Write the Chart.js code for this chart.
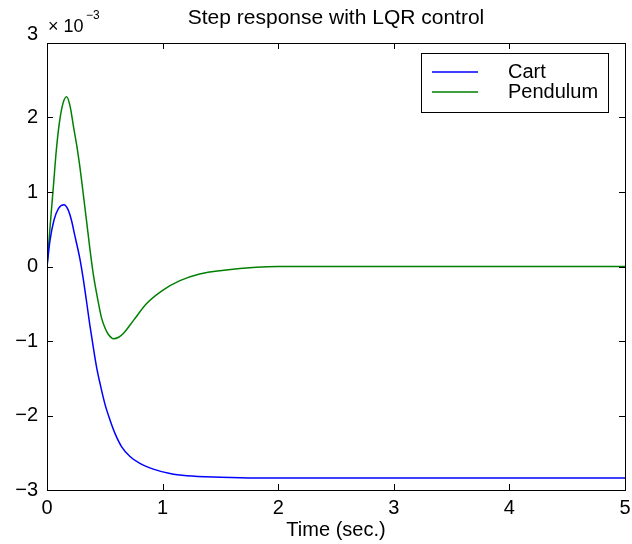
<!DOCTYPE html>
<html>
<head>
<meta charset="utf-8">
<script src="https://cdn.jsdelivr.net/npm/chart.js@4.4.1/dist/chart.umd.min.js"></script>
<style>
  html, body { margin: 0; padding: 0; background: #fff; }
  #wrap { width: 632px; height: 544px; }
</style>
</head>
<body>
<div id="wrap"><canvas id="chart" width="632" height="544"></canvas></div>
<script>
// values in units of 1e-3
const cartT = [0, 0.026, 0.06, 0.1, 0.147, 0.18, 0.21, 0.24, 0.285, 0.315, 0.343, 0.37, 0.40, 0.43, 0.46, 0.50, 0.545, 0.588, 0.646, 0.718, 0.80, 0.92, 1.064, 1.21, 1.5, 1.8, 5];
const cartY = [0, 0.35, 0.62, 0.78, 0.83, 0.77, 0.63, 0.42, 0.1, -0.18, -0.48, -0.78, -1.08, -1.36, -1.58, -1.84, -2.06, -2.24, -2.42, -2.55, -2.64, -2.72, -2.78, -2.81, -2.83, -2.84, -2.84];

const pendT = [0, 0.03, 0.055, 0.08, 0.11, 0.14, 0.17, 0.2, 0.23, 0.26, 0.285, 0.31, 0.343, 0.37, 0.40, 0.44, 0.47, 0.50, 0.53, 0.575, 0.62, 0.66, 0.75, 0.86, 1.0, 1.15, 1.32, 1.53, 1.81, 2.0, 5];
const pendY = [0, 0.6, 1.07, 1.55, 1.96, 2.2, 2.28, 2.15, 1.87, 1.6, 1.33, 1.02, 0.6, 0.25, -0.1, -0.45, -0.68, -0.82, -0.91, -0.97, -0.95, -0.9, -0.72, -0.5, -0.32, -0.19, -0.1, -0.05, -0.01, 0, 0];

const xTicks = [0, 1, 2, 3, 4, 5];
const yTicks = [-3, -2, -1, 0, 1, 2, 3];

const FONT = '"Liberation Sans", Arial, sans-serif';

function pts(xs, ys) {
  return xs.map((x, i) => ({ x: x, y: ys[i] }));
}

// box, inward ticks, title, exponent label and legend
const decor = {
  id: 'decor',
  afterDraw(chart) {
    const ctx = chart.ctx;
    const a = chart.chartArea;
    const sx = chart.scales.x, sy = chart.scales.y;
    ctx.save();
    ctx.strokeStyle = '#000';
    ctx.lineWidth = 1;
    ctx.strokeRect(a.left + 0.5, a.top + 0.5, a.right - a.left, a.bottom - a.top);
    ctx.beginPath();
    xTicks.forEach(v => {
      const px = Math.round(sx.getPixelForValue(v)) + 0.5;
      ctx.moveTo(px, a.bottom); ctx.lineTo(px, a.bottom - 6);
      ctx.moveTo(px, a.top); ctx.lineTo(px, a.top + 6);
    });
    yTicks.forEach(v => {
      const py = Math.round(sy.getPixelForValue(v)) + 0.5;
      ctx.moveTo(a.left, py); ctx.lineTo(a.left + 6, py);
      ctx.moveTo(a.right, py); ctx.lineTo(a.right - 6, py);
    });
    ctx.stroke();

    // top y label sits a little above its tick
    ctx.fillStyle = '#000';
    ctx.font = '20px ' + FONT;
    ctx.textAlign = 'right';
    ctx.textBaseline = 'middle';
    ctx.fillText(String(yTicks[yTicks.length - 1]), a.left - 9, sy.getPixelForValue(yTicks[yTicks.length - 1]) - 9);

    // title
    ctx.font = '21px ' + FONT;
    ctx.textAlign = 'center';
    ctx.fillText('Step response with LQR control', 336, 18);

    // exponent
    ctx.textAlign = 'left';
    ctx.font = '18px ' + FONT;
    ctx.fillText('\u00d7 10', a.left + 1, 27);
    ctx.font = '12px ' + FONT;
    ctx.fillText('\u22123', a.left + 39, 16);

    // legend
    const lx = 421, ly = 53, lw = 187, lh = 59;
    ctx.fillStyle = '#fff';
    ctx.fillRect(lx, ly, lw, lh);
    ctx.strokeStyle = '#000';
    ctx.strokeRect(lx + 0.5, ly + 0.5, lw, lh);
    ctx.font = '20px ' + FONT;
    chart.data.datasets.forEach((ds, i) => {
      const yy = ly + 19 + i * 20;
      ctx.strokeStyle = chart.getDatasetMeta(i).dataset.options.borderColor;
      ctx.lineWidth = 1.5;
      ctx.beginPath();
      ctx.moveTo(lx + 11, yy); ctx.lineTo(lx + 57, yy);
      ctx.stroke();
      ctx.fillStyle = '#000';
      ctx.fillText(ds.label, lx + 87, yy);
    });
    ctx.restore();
  }
};

new Chart(document.getElementById('chart'), {
  type: 'line',
  data: {
    datasets: [
      { label: 'Cart', data: pts(cartT, cartY), borderColor: '#0000ff', borderWidth: 1.5, pointRadius: 0, fill: false, cubicInterpolationMode: 'monotone' },
      { label: 'Pendulum', data: pts(pendT, pendY), borderColor: '#008000', borderWidth: 1.5, pointRadius: 0, fill: false, cubicInterpolationMode: 'monotone' }
    ]
  },
  options: {
    animation: false,
    responsive: false,
    layout: { padding: { left: 0, right: 7, top: 43, bottom: 0 } },
    plugins: { legend: { display: false }, tooltip: { enabled: false } },
    scales: {
      x: {
        type: 'linear', min: 0, max: 5,
        afterBuildTicks: s => { s.ticks = xTicks.map(v => ({ value: v })); },
        afterFit: s => { s.height = 54; s.paddingLeft = 0; s.paddingRight = 0; },
        grid: { display: false, drawTicks: false },
        border: { display: false },
        ticks: { color: '#000', font: { family: FONT, size: 20 }, padding: 6, maxRotation: 0 },
        title: { display: true, text: 'Time (sec.)', color: '#000', font: { family: FONT, size: 20 }, padding: { top: 0, bottom: 2 } }
      },
      y: {
        type: 'linear', min: -3, max: 3,
        afterBuildTicks: s => { s.ticks = yTicks.map(v => ({ value: v })); },
        afterFit: s => { s.width = 47; s.paddingTop = 0; s.paddingBottom = 0; },
        grid: { display: false, drawTicks: false },
        border: { display: false },
        ticks: { color: '#000', font: { family: FONT, size: 20 }, padding: 9,
          callback: v => (v === yTicks[yTicks.length - 1] ? '' : v < 0 ? '\u2212' + Math.abs(v) : String(v)) }
      }
    }
  },
  plugins: [decor]
});
</script>
</body>
</html>
